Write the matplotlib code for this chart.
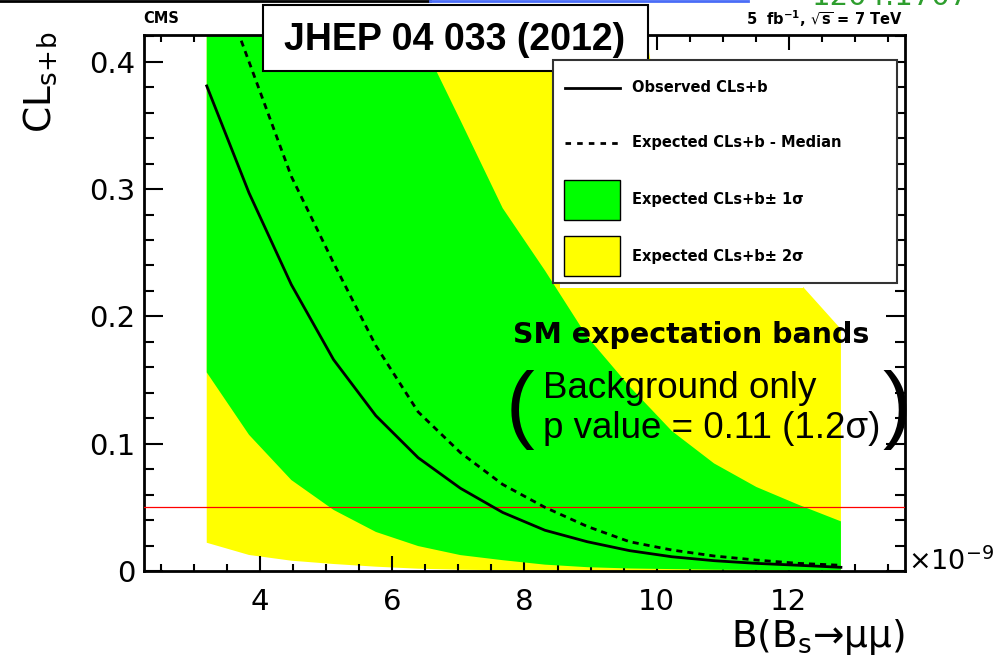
import numpy as np
import matplotlib.pyplot as plt
from matplotlib.patches import Rectangle
from matplotlib.lines import Line2D
from matplotlib.ticker import MultipleLocator

# B(Bs->mumu) scan points (x 1e-9)
bf = [3.19, 3.83, 4.47, 5.11, 5.75, 6.39, 7.03, 7.67,
      8.31, 8.95, 9.59, 10.23, 10.87, 11.51, 12.15, 12.79]
observed = [0.381, 0.297, 0.225, 0.166, 0.122, 0.089, 0.065, 0.046,
            0.032, 0.023, 0.016, 0.0112, 0.0081, 0.006, 0.0045, 0.0029]
median = [0.49, 0.40, 0.31, 0.242, 0.177, 0.125, 0.093, 0.068,
          0.050, 0.035, 0.023, 0.0165, 0.0118, 0.0086, 0.006, 0.0045]
one_sig_lo = [0.156, 0.107, 0.0715, 0.048, 0.0307, 0.0196, 0.0125, 0.0085,
              0.005, 0.003, 0.002, 0.0015, 0.001, 0.0008, 0.0005, 0.0003]
one_sig_hi = [1.0, 0.9, 0.78, 0.65, 0.53, 0.422, 0.354, 0.285,
              0.236, 0.184, 0.145, 0.11, 0.0845, 0.066, 0.052, 0.039]
two_sig_lo = [0.0222, 0.0126, 0.0081, 0.0055, 0.0034, 0.0018, 0.001, 0.0006,
              0.0004, 0.0003, 0.0002, 0.0001, 0.0001, 0.0, 0.0, 0.0]
two_sig_hi = [1.0, 1.0, 1.0, 1.0, 1.0, 1.0, 1.0, 0.9,
              0.75, 0.62, 0.50, 0.30, 0.26, 0.24, 0.227, 0.19]
cl_line = 0.05

H = 668.0  # figure height in px, for placing the overlay text

fig = plt.figure(figsize=(10, 6.68), dpi=100)
ax = fig.add_axes([0.1435, 0.1452, 0.7615, 0.8024])

ax.fill_between(bf, two_sig_lo, two_sig_hi, color='#ffff00', lw=0, zorder=1)
ax.fill_between(bf, one_sig_lo, one_sig_hi, color='#00ff00', lw=0, zorder=2)
ax.axhline(cl_line, color='red', lw=0.9, zorder=3)
ax.plot(bf, median, color='black', lw=2.0, ls=(0, (2.2, 1.8)), zorder=4)
ax.plot(bf, observed, color='black', lw=2.0, zorder=5)

ax.set_xlim(2.233, 13.76)
ax.set_ylim(0, 0.421)
ax.xaxis.set_major_locator(MultipleLocator(2))
ax.xaxis.set_minor_locator(MultipleLocator(0.5))
ax.yaxis.set_minor_locator(MultipleLocator(0.02))
ax.set_yticks([0, 0.1, 0.2, 0.3, 0.4])
ax.set_yticklabels(['0', '0.1', '0.2', '0.3', '0.4'])
ax.tick_params(which='both', direction='in', top=True, right=True, width=1.5)
ax.tick_params(axis='x', which='major', length=11, labelsize=21, pad=12)
ax.tick_params(axis='x', which='minor', length=5)
ax.tick_params(axis='y', which='major', length=14, labelsize=21, pad=6)
ax.tick_params(axis='y', which='minor', length=7)
for s in ax.spines.values():
    s.set_linewidth(2)

# axis titles
fig.text(0.040, 1 - 82 / H, r'CL$_{\mathrm{s\!+\!b}}$', rotation=90, fontsize=27,
         ha='center', va='center')
fig.text(0.905, 1 - 647 / H, 'B(B$_{\\mathrm{s}}$→μμ)', fontsize=27,
         ha='right', va='baseline')
fig.text(0.908, 1 - 570 / H, r'$\times$10$^{-9}$', fontsize=19.5, ha='left',
         va='baseline')

# header
fig.text(0.143, 0.972, 'CMS', fontsize=10.5, fontweight='bold', ha='left', va='center')
fig.text(0.903, 0.972, r'5  fb$^{\mathbf{-1}}$, $\sqrt{\mathbf{s}}$ = 7 TeV', fontsize=10.5,
         fontweight='bold', ha='right', va='center')
fig.add_artist(Rectangle((0.263, 1 - 71 / H), 0.385, 66 / H, transform=fig.transFigure,
                         fc='white', ec='black', lw=1.5, zorder=10))
fig.text(0.455, 1 - 40 / H, 'JHEP 04 033 (2012)', fontsize=27, fontweight='bold',
         family='Liberation Sans', ha='center', va='center', zorder=11)

# screenshot remnants at the very top
fig.add_artist(Line2D([0, 0.43], [0.999, 0.999], color='black', lw=2))
fig.add_artist(Line2D([0.43, 0.748], [0.999, 0.999], color='#4a6cf7', lw=2))
fig.text(0.812, 0.993, '1204.1707', fontsize=21, color='#2e9e2e', ha='left',
         va='baseline')

# legend
lx0, lx1, ly0, ly1 = 0.553, 0.897, 1 - 283 / H, 1 - 60 / H
fig.add_artist(Rectangle((lx0, ly0), lx1 - lx0, ly1 - ly0, transform=fig.transFigure,
                         fc='white', ec='#333333', lw=1.5, zorder=10))
fig.add_artist(Rectangle((0.560, 1 - 288 / H), 0.243, 5 / H, transform=fig.transFigure,
                         fc='white', ec='none', zorder=9))
rows = [88, 143, 200, 256]
labels = ['Observed CLs+b', 'Expected CLs+b - Median',
          'Expected CLs+b± 1σ', 'Expected CLs+b± 2σ']
fig.add_artist(Line2D([0.565, 0.620], [1 - rows[0] / H] * 2, color='black', lw=2,
                      zorder=11))
fig.add_artist(Line2D([0.565, 0.620], [1 - rows[1] / H] * 2, color='black', lw=2,
                      ls=(0, (2, 2.2)), zorder=11))
for r, c in zip(rows[2:], ['#00ff00', '#ffff00']):
    fig.add_artist(Rectangle((0.564, 1 - (r + 20) / H), 0.056, 40 / H,
                             transform=fig.transFigure, fc=c, ec='black', lw=1,
                             zorder=11))
for r, t in zip(rows, labels):
    fig.text(0.632, 1 - r / H, t, fontsize=10.5, fontweight='bold', ha='left',
             va='center', zorder=12)

# annotation
fig.text(0.513, 1 - 335 / H, 'SM expectation bands', fontsize=20.5, fontweight='bold',
         ha='left', va='center')
fig.text(0.543, 1 - 388 / H, 'Background only', fontsize=26.5,
         family='Liberation Sans', ha='left', va='center')
fig.text(0.543, 1 - 428 / H, 'p value = 0.11 (1.2σ)', fontsize=26.5,
         family='Liberation Sans', ha='left', va='center')
fig.text(0.520, 1 - 410 / H, '(', fontsize=62, family='Liberation Sans',
         ha='center', va='center')
fig.text(0.897, 1 - 410 / H, ')', fontsize=62, family='Liberation Sans',
         ha='center', va='center')

fig.savefig('out.png', dpi=100)
